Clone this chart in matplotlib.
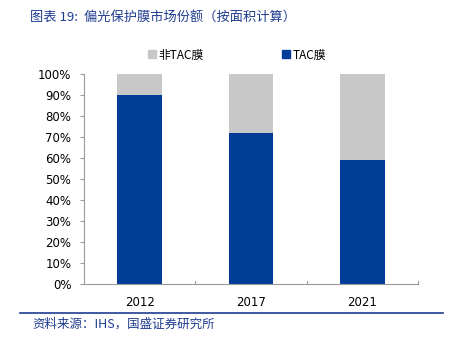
import matplotlib
matplotlib.use("Agg")
import matplotlib.pyplot as plt
from matplotlib.lines import Line2D
from matplotlib.ticker import FuncFormatter

plt.rcParams['font.family'] = ['DejaVu Sans', 'Noto Sans CJK SC']

years = ["2012", "2017", "2021"]
tac_share = [90, 72, 59]
non_tac_share = [10, 28, 41]
series_names = ["非TAC膜", "TAC膜"]
title_text = "图表 19:  偏光保护膜市场份额（按面积计算）"
source_text = "资料来源：IHS，国盛证券研究所"

blue = "#003D96"
gray = "#C8C8C8"
dark_blue = "#1F3C8F"

fig = plt.figure(figsize=(4.56, 3.37), dpi=100)
ax = fig.add_axes([84 / 456, 1 - 284 / 337, (418 - 84) / 456, (284 - 74) / 337])

x = range(len(years))
ax.bar(x, tac_share, width=0.40, color=blue, edgecolor="none", zorder=2)
ax.bar(x, non_tac_share, bottom=tac_share, width=0.40, color=gray, edgecolor="none", zorder=2)

ax.set_xlim(-0.5, len(years) - 0.5)
ax.set_ylim(0, 100)
ax.set_yticks(range(0, 101, 10))
ax.yaxis.set_major_formatter(FuncFormatter(lambda v, p: f"{int(v)}%"))
ax.set_xticks(list(x))
ax.set_xticklabels(years)
ax.tick_params(axis="x", length=0, pad=9, labelsize=8.5, colors="#000000")
ax.tick_params(axis="y", length=3, width=0.8, color="#9A9A9A", direction="out", pad=6, labelsize=8.5)

# category boundary ticks on the x axis
for b in [0.5, 1.5, 2.5]:
    ax.plot([b, b], [0, 1.6], color="#9A9A9A", lw=0.8, zorder=3, clip_on=False)

for side in ["top", "right"]:
    ax.spines[side].set_visible(False)
for side in ["left", "bottom"]:
    ax.spines[side].set_color("#9A9A9A")
    ax.spines[side].set_linewidth(0.8)

# legend
handles = [Line2D([], [], marker="s", linestyle="none", color=gray, markersize=6),
           Line2D([], [], marker="s", linestyle="none", color=blue, markersize=6)]
fig.legend(handles, series_names, loc="center", bbox_to_anchor=(237 / 456, 1 - 55 / 337), ncol=2,
           frameon=False, handlelength=0.7, handletextpad=0.25, columnspacing=6.6,
           prop={"family": ["Noto Sans CJK SC"], "size": 8.5})

fig.text(30 / 456, 1 - 18 / 337, title_text, color=dark_blue, fontsize=9.5, style="italic",
         family=["Noto Sans CJK SC", "DejaVu Sans"], va="center", ha="left")

fig.add_artist(Line2D([20 / 456, 443 / 456], [1 - 313 / 337, 1 - 313 / 337],
                      color=dark_blue, lw=1.2, transform=fig.transFigure))
fig.text(32 / 456, 1 - 324 / 337, source_text, color=dark_blue, fontsize=9, style="italic",
         family=["Noto Sans CJK SC", "DejaVu Sans"], va="center", ha="left")

fig.savefig("out.png", dpi=100)
